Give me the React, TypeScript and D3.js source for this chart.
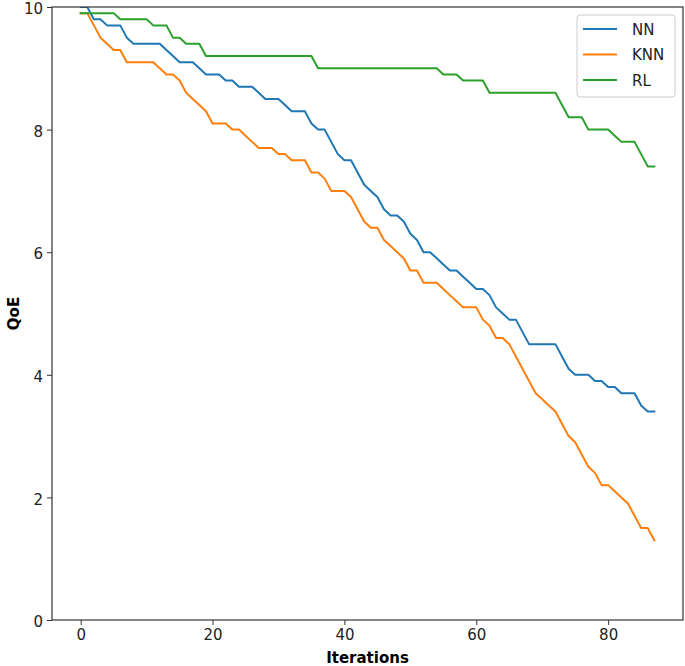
import React, { useEffect, useRef } from "react";
import * as d3 from "d3";

const seriesNames = ["NN", "KNN", "RL"];
const seriesColors = ["#1f77b4", "#ff7f0e", "#2ca02c"];

const nnValues = [
  10.0, 10.0, 9.8, 9.8, 9.7, 9.7, 9.7, 9.5, 9.4, 9.4,
  9.4, 9.4, 9.4, 9.3, 9.2, 9.1, 9.1, 9.1, 9.0, 8.9,
  8.9, 8.9, 8.8, 8.8, 8.7, 8.7, 8.7, 8.6, 8.5, 8.5,
  8.5, 8.4, 8.3, 8.3, 8.3, 8.1, 8.0, 8.0, 7.8, 7.6,
  7.5, 7.5, 7.3, 7.1, 7.0, 6.9, 6.7, 6.6, 6.6, 6.5,
  6.3, 6.2, 6.0, 6.0, 5.9, 5.8, 5.7, 5.7, 5.6, 5.5,
  5.4, 5.4, 5.3, 5.1, 5.0, 4.9, 4.9, 4.7, 4.5, 4.5,
  4.5, 4.5, 4.5, 4.3, 4.1, 4.0, 4.0, 4.0, 3.9, 3.9,
  3.8, 3.8, 3.7, 3.7, 3.7, 3.5, 3.4, 3.4,
];

const knnValues = [
  9.9, 9.9, 9.7, 9.5, 9.4, 9.3, 9.3, 9.1, 9.1, 9.1,
  9.1, 9.1, 9.0, 8.9, 8.9, 8.8, 8.6, 8.5, 8.4, 8.3,
  8.1, 8.1, 8.1, 8.0, 8.0, 7.9, 7.8, 7.7, 7.7, 7.7,
  7.6, 7.6, 7.5, 7.5, 7.5, 7.3, 7.3, 7.2, 7.0, 7.0,
  7.0, 6.9, 6.7, 6.5, 6.4, 6.4, 6.2, 6.1, 6.0, 5.9,
  5.7, 5.7, 5.5, 5.5, 5.5, 5.4, 5.3, 5.2, 5.1, 5.1,
  5.1, 4.9, 4.8, 4.6, 4.6, 4.5, 4.3, 4.1, 3.9, 3.7,
  3.6, 3.5, 3.4, 3.2, 3.0, 2.9, 2.7, 2.5, 2.4, 2.2,
  2.2, 2.1, 2.0, 1.9, 1.7, 1.5, 1.5, 1.3,
];

const rlValues = [
  9.9, 9.9, 9.9, 9.9, 9.9, 9.9, 9.8, 9.8, 9.8, 9.8,
  9.8, 9.7, 9.7, 9.7, 9.5, 9.5, 9.4, 9.4, 9.4, 9.2,
  9.2, 9.2, 9.2, 9.2, 9.2, 9.2, 9.2, 9.2, 9.2, 9.2,
  9.2, 9.2, 9.2, 9.2, 9.2, 9.2, 9.0, 9.0, 9.0, 9.0,
  9.0, 9.0, 9.0, 9.0, 9.0, 9.0, 9.0, 9.0, 9.0, 9.0,
  9.0, 9.0, 9.0, 9.0, 9.0, 8.9, 8.9, 8.9, 8.8, 8.8,
  8.8, 8.8, 8.6, 8.6, 8.6, 8.6, 8.6, 8.6, 8.6, 8.6,
  8.6, 8.6, 8.6, 8.4, 8.2, 8.2, 8.2, 8.0, 8.0, 8.0,
  8.0, 7.9, 7.8, 7.8, 7.8, 7.6, 7.4, 7.4,
];

const xTicks = [0, 20, 40, 60, 80];
const yTicks = [0, 2, 4, 6, 8, 10];
const xLabel = "Iterations";
const yLabel = "QoE";

const W = 685;
const H = 666;
const FONT = "DejaVu Sans, sans-serif";

export default function App() {
  const ref = useRef<SVGSVGElement | null>(null);

  useEffect(() => {
    const svg = d3.select(ref.current);
    svg.selectAll("*").remove();

    const left = 52, right = 683, top = 7, bottom = 620;
    const n = nnValues.length;
    const xMin = 0, xMax = n - 1;
    const pad = (xMax - xMin) * 0.05;
    const x = d3.scaleLinear().domain([xMin - pad, xMax + pad]).range([left, right]);
    const y = d3.scaleLinear().domain([0, 10]).range([bottom, top]);

    const all = [nnValues, knnValues, rlValues];

    const clipId = "plotclip";
    svg.append("defs").append("clipPath").attr("id", clipId)
      .append("rect").attr("x", left).attr("y", top).attr("width", right - left).attr("height", bottom - top);

    const line = d3.line<number>().x((_, i) => x(i)).y((d) => y(d));
    const g = svg.append("g").attr("clip-path", `url(#${clipId})`);
    all.forEach((vals, k) => {
      g.append("path")
        .datum(vals)
        .attr("d", line)
        .attr("fill", "none")
        .attr("stroke", seriesColors[k])
        .attr("stroke-width", 2)
        .attr("stroke-linejoin", "round")
        .attr("stroke-linecap", "square");
    });

    const xAxis = svg.append("g").attr("transform", `translate(0,${bottom})`)
      .call(d3.axisBottom(x).tickValues(xTicks).tickSize(5).tickPadding(4).tickFormat(d3.format("d")));
    xAxis.select(".domain").remove();
    xAxis.selectAll("text").attr("font-family", FONT).attr("font-size", 15).attr("fill", "#222");
    xAxis.selectAll("line").attr("stroke", "#333").attr("stroke-width", 1);

    const yAxis = svg.append("g").attr("transform", `translate(${left},0)`)
      .call(d3.axisLeft(y).tickValues(yTicks).tickSize(5).tickPadding(4).tickFormat(d3.format("d")));
    yAxis.select(".domain").remove();
    yAxis.selectAll("text").attr("font-family", FONT).attr("font-size", 15).attr("fill", "#222")
      .attr("dy", "0.45em");
    yAxis.selectAll("line").attr("stroke", "#333").attr("stroke-width", 1);

    svg.append("rect")
      .attr("x", left).attr("y", top).attr("width", right - left).attr("height", bottom - top)
      .attr("fill", "none").attr("stroke", "#333").attr("stroke-width", 1.2);

    svg.append("text")
      .attr("x", (left + right) / 2).attr("y", 663)
      .attr("text-anchor", "middle")
      .attr("font-family", FONT).attr("font-size", 15).attr("font-weight", "bold")
      .text(xLabel);

    svg.append("text")
      .attr("transform", `translate(19,${(top + bottom) / 2}) rotate(-90)`)
      .attr("text-anchor", "middle")
      .attr("font-family", FONT).attr("font-size", 15).attr("font-weight", "bold")
      .text(yLabel);

    const lg = svg.append("g");
    lg.append("rect")
      .attr("x", 577).attr("y", 15).attr("width", 98).attr("height", 82)
      .attr("rx", 3).attr("fill", "white").attr("fill-opacity", 0.8)
      .attr("stroke", "#cccccc").attr("stroke-width", 1);
    seriesNames.forEach((name, k) => {
      const cy = 29 + k * 25.5;
      lg.append("line").attr("x1", 583).attr("x2", 617).attr("y1", cy).attr("y2", cy)
        .attr("stroke", seriesColors[k]).attr("stroke-width", 2);
      lg.append("text").attr("x", 632).attr("y", cy + 5.5)
        .attr("font-family", FONT).attr("font-size", 15).attr("fill", "#222")
        .text(name);
    });
  }, []);

  return (
    <svg
      ref={ref}
      width={W}
      height={H}
      style={{ position: "absolute", left: 0, top: 0, display: "block", background: "white" }}
    />
  );
}
